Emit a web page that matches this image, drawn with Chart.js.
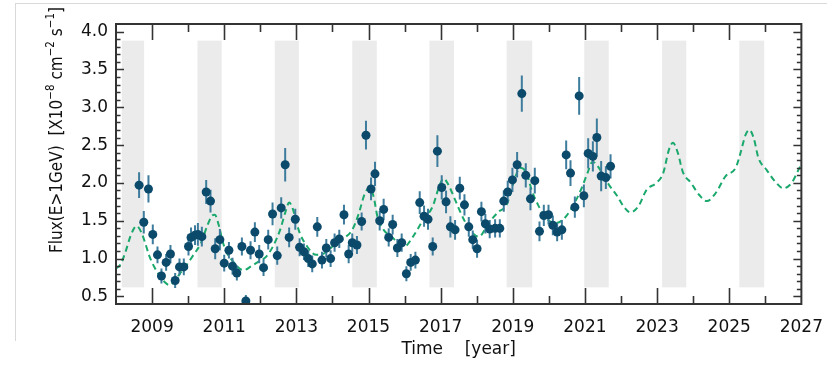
<!DOCTYPE html>
<html>
<head>
<meta charset="utf-8">
<script src="https://cdn.jsdelivr.net/npm/chart.js@4/dist/chart.umd.min.js"></script>
<style>
  html, body { margin: 0; padding: 0; background: #fff; }
  #wrap { position: relative; width: 836px; height: 366px; }
  #wrap canvas { position: absolute; left: 0; top: 0; }
  #frame { position: absolute; left: 15px; top: 3px; width: 811px; height: 337px;
           border-left: 1px solid #d9d9d9; border-top: 1px solid #d9d9d9; pointer-events: none; }
</style>
</head>
<body>
<div id="wrap">
  <canvas id="lc" width="836" height="366"></canvas>
  <div id="frame"></div>
</div>
<script>
// Observed monthly-binned gamma-ray flux (E > 1 GeV), units of 1e-8 ph cm^-2 s^-1
const obsTime = [
  2008.64, 2008.77, 2008.90, 2009.02, 2009.15, 2009.26, 2009.39, 2009.51, 2009.64, 2009.76,
  2009.88, 2010.01, 2010.08, 2010.19, 2010.27, 2010.38, 2010.50, 2010.62, 2010.75, 2010.88,
  2011.00, 2011.13, 2011.23, 2011.35, 2011.49, 2011.60, 2011.73, 2011.85, 2011.97, 2012.09,
  2012.22, 2012.34, 2012.47, 2012.58, 2012.69, 2012.80, 2012.97, 2013.09, 2013.21, 2013.33,
  2013.44, 2013.58, 2013.71, 2013.83, 2013.95, 2014.06, 2014.19, 2014.32, 2014.45, 2014.55,
  2014.68, 2014.81, 2014.93, 2015.07, 2015.18, 2015.31, 2015.42, 2015.56, 2015.67, 2015.80,
  2015.92, 2016.05, 2016.17, 2016.30, 2016.42, 2016.54, 2016.65, 2016.78, 2016.91, 2017.03,
  2017.15, 2017.27, 2017.40, 2017.53, 2017.66, 2017.78, 2017.89, 2018.01, 2018.13, 2018.24,
  2018.36, 2018.51, 2018.64, 2018.75, 2018.86, 2018.99, 2019.12, 2019.25, 2019.36, 2019.49,
  2019.61, 2019.74, 2019.86, 2019.99, 2020.11, 2020.23, 2020.36, 2020.48, 2020.60, 2020.72,
  2020.84, 2020.97, 2021.09, 2021.22, 2021.33, 2021.45, 2021.58, 2021.71
];
const obsFlux = [
  1.97, 1.48, 1.92, 1.32, 1.05, 0.77, 0.95, 1.06, 0.71, 0.89,
  0.89, 1.16, 1.28, 1.31, 1.32, 1.29, 1.88, 1.76, 1.13, 1.25,
  0.94, 1.11, 0.90, 0.81, 1.16, 0.44, 1.11, 1.35, 1.06, 0.88,
  1.25, 1.59, 1.04, 1.67, 2.24, 1.28, 1.52, 1.15, 1.09, 1.00,
  0.93, 1.42, 0.98, 1.14, 1.00, 1.21, 1.26, 1.58, 1.06, 1.21,
  1.18, 1.49, 2.63, 1.92, 2.12, 1.50, 1.65, 1.28, 1.45, 1.14,
  1.21, 0.80, 0.95, 0.98, 1.74, 1.56, 1.52, 1.16, 2.42, 1.94,
  1.75, 1.42, 1.38, 1.93, 1.71, 1.42, 1.25, 1.13, 1.62, 1.46,
  1.39, 1.40, 1.40, 1.76, 1.88, 2.04, 2.24, 3.18, 2.10, 1.79,
  2.03, 1.36, 1.57, 1.58, 1.44, 1.35, 1.38, 2.37, 2.13, 1.68,
  3.15, 1.83, 2.39, 2.35, 2.60, 2.09, 2.07, 2.22
];
const obsErr = [
  0.17, 0.15, 0.18, 0.13, 0.11, 0.10, 0.11, 0.12, 0.10, 0.11,
  0.11, 0.12, 0.13, 0.13, 0.15, 0.13, 0.16, 0.15, 0.14, 0.14,
  0.11, 0.11, 0.11, 0.10, 0.12, 0.08, 0.12, 0.13, 0.12, 0.11,
  0.13, 0.15, 0.12, 0.14, 0.22, 0.13, 0.14, 0.12, 0.11, 0.11,
  0.11, 0.13, 0.11, 0.12, 0.11, 0.12, 0.12, 0.13, 0.12, 0.12,
  0.12, 0.12, 0.19, 0.15, 0.16, 0.13, 0.14, 0.12, 0.13, 0.12,
  0.12, 0.10, 0.11, 0.11, 0.15, 0.14, 0.14, 0.12, 0.21, 0.16,
  0.15, 0.14, 0.13, 0.15, 0.14, 0.13, 0.12, 0.12, 0.13, 0.13,
  0.12, 0.12, 0.12, 0.14, 0.15, 0.16, 0.17, 0.24, 0.16, 0.15,
  0.17, 0.13, 0.14, 0.13, 0.13, 0.12, 0.13, 0.19, 0.17, 0.14,
  0.25, 0.15, 0.20, 0.20, 0.25, 0.20, 0.15, 0.16
];

// Periodic model curve, extended as a forecast to 2027
const modelTime = [
  2008.00, 2008.12, 2008.25, 2008.42, 2008.57, 2008.70, 2008.80, 2008.92, 2009.05, 2009.20,
  2009.35, 2009.48, 2009.62, 2009.80, 2009.95, 2010.15, 2010.35, 2010.52, 2010.65, 2010.74,
  2010.85, 2010.96, 2011.08, 2011.25, 2011.45, 2011.55, 2011.75, 2011.95, 2012.15, 2012.35,
  2012.55, 2012.70, 2012.80, 2012.90, 2013.00, 2013.10, 2013.30, 2013.55, 2013.77, 2014.05,
  2014.32, 2014.55, 2014.72, 2014.90, 2015.04, 2015.15, 2015.25, 2015.42, 2015.64, 2015.82,
  2016.00, 2016.22, 2016.50, 2016.78, 2016.95, 2017.08, 2017.22, 2017.38, 2017.65, 2017.88,
  2018.06, 2018.33, 2018.61, 2018.83, 2019.02, 2019.20, 2019.38, 2019.52, 2019.70, 2019.88,
  2020.16, 2020.38, 2020.61, 2020.89, 2021.07, 2021.21, 2021.43, 2021.66, 2021.89, 2022.07,
  2022.26, 2022.48, 2022.71, 2022.98, 2023.17, 2023.33, 2023.44, 2023.58, 2023.71, 2023.94,
  2024.17, 2024.38, 2024.63, 2024.90, 2025.18, 2025.31, 2025.45, 2025.56, 2025.68, 2025.81,
  2026.04, 2026.27, 2026.50, 2026.73, 2026.95, 2027.00
];
const modelFlux = [
  0.87, 0.92, 1.07, 1.32, 1.43, 1.35, 1.22, 1.04, 0.90, 0.78,
  0.69, 0.65, 0.70, 0.82, 0.91, 1.05, 1.20, 1.42, 1.56, 1.58,
  1.44, 1.22, 1.07, 0.96, 0.86, 0.85, 0.90, 0.96, 1.02, 1.16,
  1.38, 1.62, 1.74, 1.66, 1.48, 1.33, 1.16, 1.05, 1.07, 1.18,
  1.27, 1.38, 1.58, 1.86, 1.94, 1.80, 1.55, 1.38, 1.29, 1.21,
  1.16, 1.28, 1.50, 1.69, 1.94, 2.06, 1.97, 1.80, 1.51, 1.34,
  1.29, 1.47, 1.62, 1.71, 2.00, 2.20, 2.13, 1.91, 1.71, 1.56,
  1.47, 1.51, 1.65, 1.91, 2.13, 2.28, 2.17, 1.98, 1.83, 1.69,
  1.61, 1.69, 1.91, 2.00, 2.13, 2.44, 2.53, 2.39, 2.15, 2.00,
  1.84, 1.76, 1.87, 2.09, 2.20, 2.39, 2.63, 2.70, 2.59, 2.33,
  2.17, 2.02, 1.93, 2.00, 2.20, 2.24
];

// Shaded high-state windows (years)
const bandStart = [2008.16, 2010.26, 2012.40, 2014.55, 2016.69, 2018.83, 2020.98, 2023.14, 2025.28];
const bandEnd   = [2008.78, 2010.93, 2013.07, 2015.23, 2017.37, 2019.54, 2021.66, 2023.81, 2025.97];
const bandFluxRange = [0.62, 3.88];

// Axis ticks
const xTickYears = [2009, 2011, 2013, 2015, 2017, 2019, 2021, 2023, 2025, 2027];
const yTickValues = [0.5, 1.0, 1.5, 2.0, 2.5, 3.0, 3.5, 4.0];

const FONT = 'DejaVu Sans';
const TITLE_FONT = '"DejaVu Sans Condensed", "Liberation Sans", sans-serif';
const AXIS_COLOR = '#333333';

// Grey shaded windows behind the data
const bandsPlugin = {
  id: 'bands',
  beforeDatasetsDraw(chart) {
    const { ctx, chartArea, scales: { x, y } } = chart;
    ctx.save();
    ctx.beginPath();
    ctx.rect(chartArea.left, chartArea.top, chartArea.right - chartArea.left, chartArea.bottom - chartArea.top);
    ctx.clip();
    ctx.fillStyle = '#ebebeb';
    const yTop = y.getPixelForValue(bandFluxRange[1]);
    const yBot = y.getPixelForValue(bandFluxRange[0]);
    bandStart.forEach((s, i) => {
      const x0 = x.getPixelForValue(s);
      const x1 = x.getPixelForValue(bandEnd[i]);
      ctx.fillRect(x0, yTop, x1 - x0, yBot - yTop);
    });
    ctx.restore();
  }
};

// Vertical 1-sigma error bars under the flux points
const errorBarPlugin = {
  id: 'errorBars',
  beforeDatasetDraw(chart, args) {
    if (args.index !== 0) return;
    const { ctx, chartArea, scales: { x, y } } = chart;
    ctx.save();
    ctx.beginPath();
    ctx.rect(chartArea.left, chartArea.top, chartArea.right - chartArea.left, chartArea.bottom - chartArea.top);
    ctx.clip();
    ctx.strokeStyle = '#3d7c9c';
    ctx.lineWidth = 2;
    obsTime.forEach((t, i) => {
      const px = x.getPixelForValue(t);
      ctx.beginPath();
      ctx.moveTo(px, y.getPixelForValue(obsFlux[i] - obsErr[i]));
      ctx.lineTo(px, y.getPixelForValue(obsFlux[i] + obsErr[i]));
      ctx.stroke();
    });
    ctx.restore();
  }
};

// Closed box with inward-pointing major/minor ticks on all four sides
const boxPlugin = {
  id: 'box',
  afterDatasetsDraw(chart) {
    const { ctx, chartArea: a, scales: { x, y } } = chart;
    ctx.save();
    ctx.strokeStyle = AXIS_COLOR;
    ctx.lineWidth = 1.6;
    ctx.beginPath();
    for (let yr = 2009; yr < 2027; yr++) {
      const px = Math.round(x.getPixelForValue(yr)) + 0.5;
      const len = (yr % 2 === 1) ? 16 : 8;
      ctx.moveTo(px, a.bottom); ctx.lineTo(px, a.bottom - len);
      ctx.moveTo(px, a.top);    ctx.lineTo(px, a.top + len);
    }
    for (let k = 5; k <= 40; k++) {
      const py = Math.round(y.getPixelForValue(k / 10)) + 0.5;
      const len = (k % 5 === 0) ? 8 : 4.5;
      ctx.moveTo(a.left, py);  ctx.lineTo(a.left + len, py);
      ctx.moveTo(a.right, py); ctx.lineTo(a.right - len, py);
    }
    ctx.stroke();
    ctx.lineWidth = 2;
    ctx.strokeRect(a.left, a.top, a.right - a.left, a.bottom - a.top);
    ctx.restore();
  }
};

// Rotated y-axis title with superscript exponents
const yTitleParts = [
  ['Flux(E>1GeV)  [X10', false], ['\u22128', true], [' cm', false],
  ['\u22122', true], [' s', false], ['\u22121', true], [']', false]
];
const yTitlePlugin = {
  id: 'yTitle',
  afterDraw(chart) {
    const { ctx } = chart;
    const mainFont = '17px ' + TITLE_FONT;
    const supFont = '11.5px ' + TITLE_FONT;
    ctx.save();
    let total = 0;
    yTitleParts.forEach(([t, sup]) => { ctx.font = sup ? supFont : mainFont; total += ctx.measureText(t).width; });
    ctx.translate(58, 130);
    ctx.rotate(-Math.PI / 2);
    ctx.fillStyle = '#111';
    ctx.textBaseline = 'middle';
    ctx.textAlign = 'left';
    let cx = -total / 2;
    yTitleParts.forEach(([t, sup]) => {
      ctx.font = sup ? supFont : mainFont;
      ctx.fillText(t, cx, sup ? -7 : 0);
      cx += ctx.measureText(t).width;
    });
    ctx.restore();
  }
};

const pointData = obsTime.map((t, i) => ({ x: t, y: obsFlux[i] }));
const modelData = modelTime.map((t, i) => ({ x: t, y: modelFlux[i] }));

new Chart(document.getElementById('lc'), {
  data: {
    datasets: [
      {
        type: 'scatter',
        label: 'Flux',
        data: pointData,
        pointRadius: 4.5,
        pointBackgroundColor: '#0b4a6a',
        pointBorderWidth: 0,
        clip: 0,
        order: 0
      },
      {
        type: 'line',
        label: 'Model',
        data: modelData,
        borderColor: '#1aa86c',
        borderWidth: 2,
        borderDash: [6, 4],
        pointRadius: 0,
        fill: false,
        cubicInterpolationMode: 'monotone',
        clip: 0,
        order: 1
      }
    ]
  },
  options: {
    responsive: false,
    animation: false,
    events: [],
    layout: { padding: { top: 24, right: 26, left: 0, bottom: 0 } },
    plugins: { legend: { display: false }, tooltip: { enabled: false } },
    scales: {
      x: {
        type: 'linear',
        min: 2008,
        max: 2027,
        grid: { display: false, drawTicks: false },
        border: { display: false },
        afterFit(s) { s.height = 62; },
        afterBuildTicks(s) { s.ticks = xTickYears.map(v => ({ value: v })); },
        ticks: {
          autoSkip: false, maxRotation: 0, padding: 13, color: '#111',
          font: { family: FONT, size: 17 },
          callback: v => String(v)
        },
        title: {
          display: true, text: 'Time    [year]', color: '#111',
          font: { family: FONT, size: 17 }, padding: { top: 0, bottom: 6 }
        }
      },
      y: {
        type: 'linear',
        min: 0.4,
        max: 4.1,
        grid: { display: false, drawTicks: false },
        border: { display: false },
        afterFit(s) { s.width = 116; },
        afterBuildTicks(s) { s.ticks = yTickValues.map(v => ({ value: v })); },
        ticks: {
          autoSkip: false, padding: 8, color: '#111',
          font: { family: FONT, size: 17 },
          callback: v => Number(v).toFixed(1)
        }
      }
    }
  },
  plugins: [bandsPlugin, errorBarPlugin, boxPlugin, yTitlePlugin]
});
</script>
</body>
</html>
